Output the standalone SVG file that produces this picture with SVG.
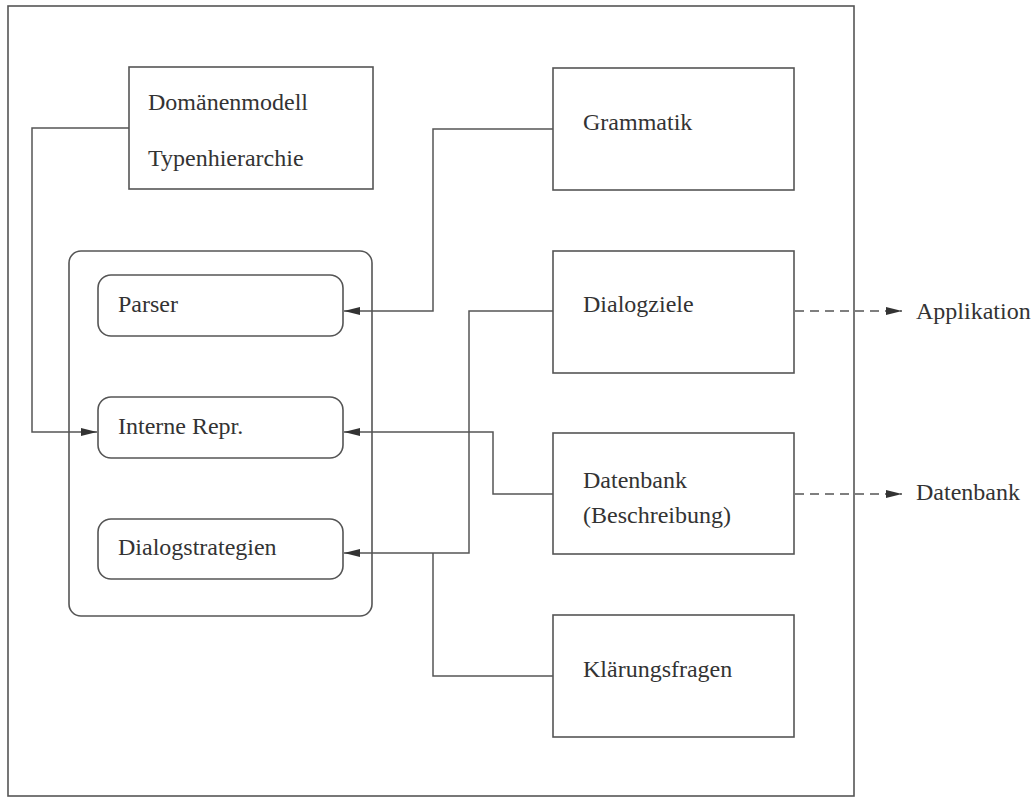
<svg xmlns="http://www.w3.org/2000/svg" width="1031" height="798" viewBox="0 0 1031 798">
  <style>
    .box { fill: #fff; stroke: #555; stroke-width: 1.6; }
    .frame { fill: none; stroke: #555; stroke-width: 1.6; }
    .lbl { font-family: "Liberation Serif", "Times New Roman", serif; font-size: 24px; fill: #333; }
    .wire { fill: none; stroke: #555; stroke-width: 1.5; }
    .dash { fill: none; stroke: #555; stroke-width: 1.5; stroke-dasharray: 9 6; }
  </style>
  <defs>
    <marker id="arrow" markerUnits="userSpaceOnUse" markerWidth="16" markerHeight="8" refX="16" refY="4" orient="auto">
      <path d="M0,0 L16,4 L0,8 z" fill="#333"/>
    </marker>
  </defs>

  <rect x="0" y="0" width="1031" height="798" fill="#fff"/>

  <!-- outer system frame -->
  <rect class="frame" x="8" y="6" width="846" height="790"/>

  <!-- processing core container -->
  <g id="core">
    <rect class="box" x="69" y="251" width="303" height="365" rx="12"/>
  </g>

  <g id="parser">
    <rect class="box" x="98" y="275" width="245" height="61" rx="13"/>
    <text class="lbl" x="118" y="312">Parser</text>
  </g>
  <g id="interne-repr">
    <rect class="box" x="98" y="397" width="245" height="61" rx="13"/>
    <text class="lbl" x="118" y="434">Interne Repr.</text>
  </g>
  <g id="dialogstrategien">
    <rect class="box" x="98" y="519" width="245" height="60" rx="13"/>
    <text class="lbl" x="118" y="555">Dialogstrategien</text>
  </g>

  <g id="domaenenmodell">
    <rect class="box" x="129" y="67" width="244" height="122"/>
    <text class="lbl" x="148" y="110">Domänenmodell</text>
    <text class="lbl" x="148" y="166">Typenhierarchie</text>
  </g>

  <g id="grammatik">
    <rect class="box" x="553" y="68" width="241" height="122"/>
    <text class="lbl" x="583" y="130">Grammatik</text>
  </g>

  <g id="dialogziele">
    <rect class="box" x="553" y="251" width="241" height="122"/>
    <text class="lbl" x="583" y="312">Dialogziele</text>
  </g>

  <g id="datenbank-beschreibung">
    <rect class="box" x="553" y="433" width="241" height="121"/>
    <text class="lbl" x="583" y="488">Datenbank</text>
    <text class="lbl" x="583" y="523">(Beschreibung)</text>
  </g>

  <g id="klaerungsfragen">
    <rect class="box" x="553" y="615" width="241" height="122"/>
    <text class="lbl" x="583" y="677">Klärungsfragen</text>
  </g>

  <g id="applikation">
    <text class="lbl" x="916" y="319">Applikation</text>
  </g>
  <g id="datenbank">
    <text class="lbl" x="916" y="500">Datenbank</text>
  </g>

  <!-- connectors -->
  <g id="connectors">
    <path class="wire" d="M129,128 H32 V432 H97" marker-end="url(#arrow)"/>
    <path class="wire" d="M553,129 H433 V311 H344" marker-end="url(#arrow)"/>
    <path class="wire" d="M553,311 H469 V553 H344" marker-end="url(#arrow)"/>
    <path class="wire" d="M553,494 H493 V432 H344" marker-end="url(#arrow)"/>
    <path class="wire" d="M553,676 H433 V553"/>
    <path class="dash" d="M795,311 H902" marker-end="url(#arrow)"/>
    <path class="dash" d="M795,494 H902" marker-end="url(#arrow)"/>
  </g>
</svg>
